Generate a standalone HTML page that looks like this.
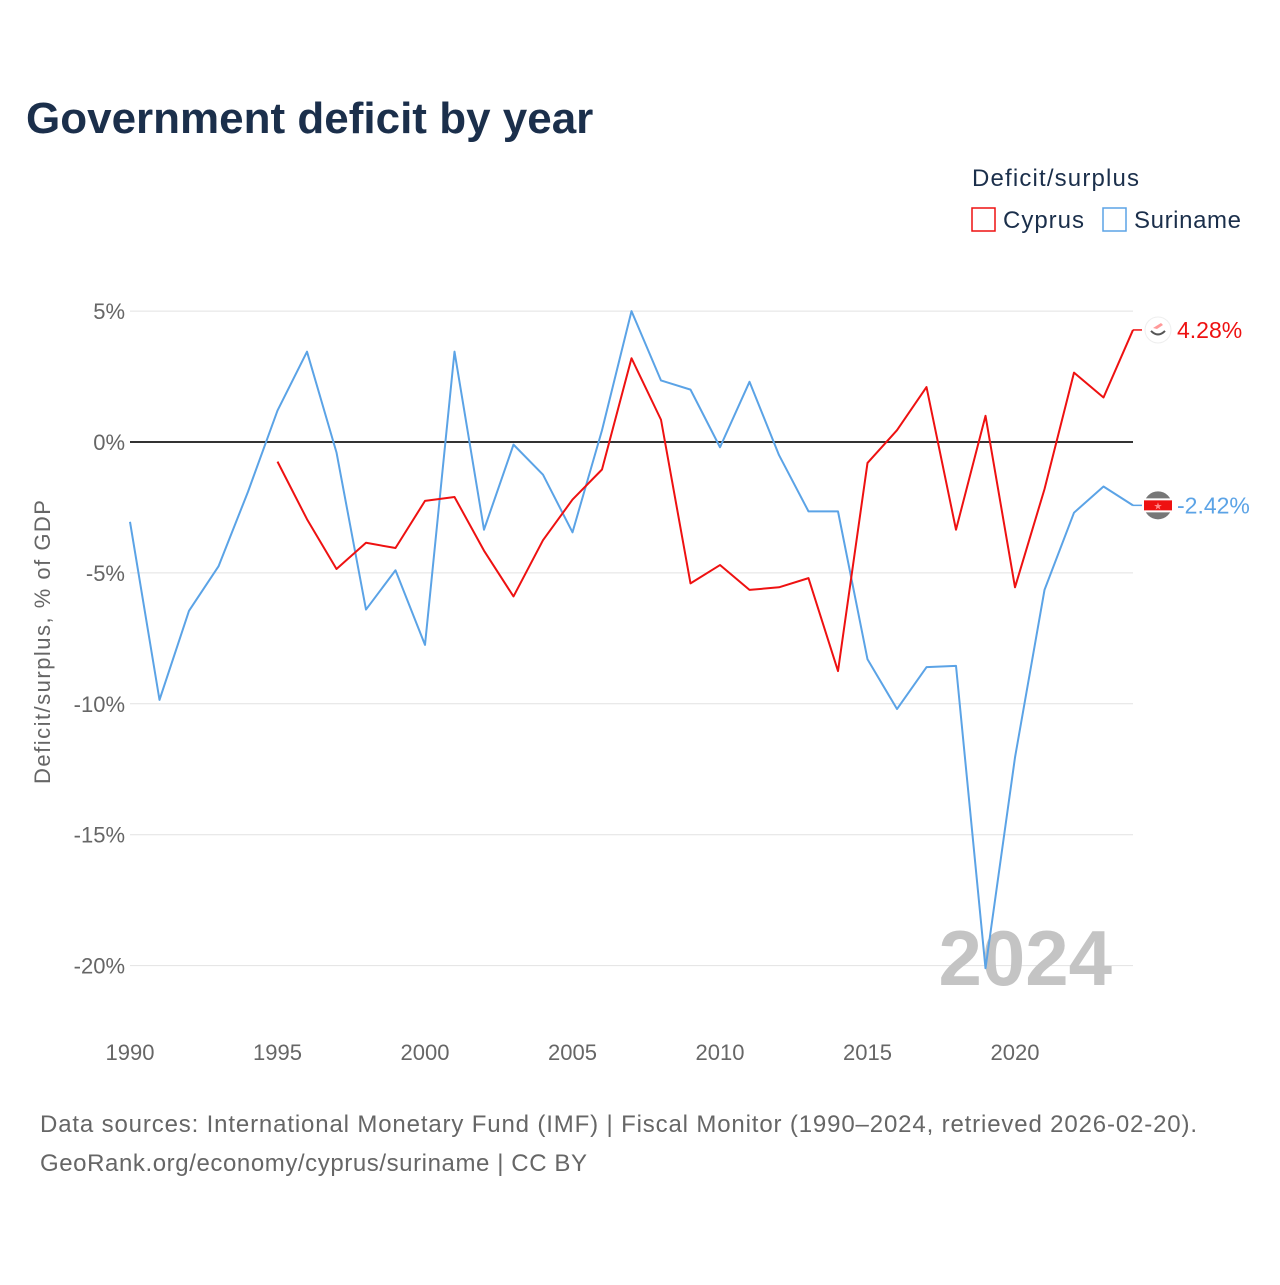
<!DOCTYPE html>
<html><head><meta charset="utf-8"><style>
body{margin:0;background:#fff;width:1280px;height:1280px;overflow:hidden;font-family:"Liberation Sans",sans-serif}
</style></head><body>
<svg width="1280" height="1280" id="chart" xmlns="http://www.w3.org/2000/svg" font-family="Liberation Sans, sans-serif">
<text x="26" y="133" font-size="44" font-weight="bold" fill="#1b2f4b">Government deficit by year</text>
<text x="972" y="186" font-size="24" fill="#1b2f4b" textLength="167">Deficit/surplus</text>
<g><rect x="972" y="208" width="23" height="23" fill="none" stroke="#ee1111" stroke-width="1.5"/><text x="1003" y="228" font-size="24" fill="#1b2f4b" textLength="81">Cyprus</text></g>
<g><rect x="1103" y="208" width="23" height="23" fill="none" stroke="#5ba3e6" stroke-width="1.5"/><text x="1134" y="228" font-size="24" fill="#1b2f4b" textLength="107">Suriname</text></g>
<text transform="translate(50,642) rotate(-90)" text-anchor="middle" font-size="22" fill="#666" textLength="284">Deficit/surplus, % of GDP</text>
<g id="grid"></g><g id="xt"></g>
<text x="1112" y="985" text-anchor="end" font-size="78" font-weight="bold" fill="#c4c4c4">2024</text>
<g id="lines"></g>
<text x="40" y="1132" font-size="24" fill="#666" textLength="1157">Data sources: International Monetary Fund (IMF) | Fiscal Monitor (1990–2024, retrieved 2026-02-20).</text>
<text x="40" y="1171" font-size="24" fill="#666" textLength="547">GeoRank.org/economy/cyprus/suriname | CC BY</text>
</svg>
<script>
const years=[];for(let y=1990;y<=2024;y++)years.push(y);
const yTicks=[5,0,-5,-10,-15,-20];
const xTicks=[1990,1995,2000,2005,2010,2015,2020];
const suriname=[-3.05,-9.85,-6.45,-4.75,-1.9,1.2,3.45,-0.4,-6.4,-4.9,-7.75,3.45,-3.35,-0.1,-1.25,-3.45,0.45,5.0,2.35,2.0,-0.2,2.3,-0.5,-2.65,-2.65,-8.3,-10.2,-8.6,-8.55,-20.1,-12.05,-5.65,-2.7,-1.7,-2.42];
const cyprusYears=[1995,1996,1997,1998,1999,2000,2001,2002,2003,2004,2005,2006,2007,2008,2009,2010,2011,2012,2013,2014,2015,2016,2017,2018,2019,2020,2021,2022,2023,2024];
const cyprus=[-0.75,-2.95,-4.85,-3.85,-4.05,-2.25,-2.1,-4.15,-5.9,-3.75,-2.2,-1.05,3.2,0.85,-5.4,-4.7,-5.65,-5.55,-5.2,-8.75,-0.8,0.45,2.1,-3.35,1.0,-5.55,-1.8,2.65,1.7,4.28];
const X=y=>130+(y-1990)*(1133-130)/34;
const Y=v=>442-v*26.18;
const NS="http://www.w3.org/2000/svg";
function mk(t,a,p){const e=document.createElementNS(NS,t);for(const k in a)e.setAttribute(k,a[k]);p.appendChild(e);return e;}
const grid=document.getElementById('grid');
yTicks.forEach(v=>{
 const l=mk('line',{x1:130,x2:1133,y1:Y(v),y2:Y(v),stroke:v===0?'#333':'#e2e2e2','stroke-width':v===0?2:1},grid);
 
 
 const t=mk('text',{x:125,y:Y(v)+8,'text-anchor':'end','font-size':22,fill:'#666'},grid);
 t.textContent=v+'%';
 
 
});
const xt=document.getElementById('xt');
xTicks.forEach(v=>{
 const t=mk('text',{x:X(v),y:1060,'text-anchor':'middle','font-size':22,fill:'#666'},xt);
 t.textContent=v;
 
 
});
const lines=document.getElementById('lines');
function series(xs,vs,color,name){
 const p=mk('polyline',{points:xs.map((x,i)=>X(x)+','+Y(vs[i])).join(' '),fill:'none',stroke:color,'stroke-width':2,'stroke-linejoin':'round'},lines);
 
 
}
series(years,suriname,'#5ba3e6','suriname');
series(cyprusYears,cyprus,'#ee1111','cyprus');
function endLabel(v,color,name,flag){
 const y=Y(v);
 mk('line',{x1:1133,x2:1142,y1:y,y2:y,stroke:color,'stroke-width':1.5},lines);
 const g=mk('g',{},lines);
 
 
 if(flag==='sr'){
  mk('circle',{cx:1158,cy:y,r:14,fill:'#777'},g);
  mk('rect',{x:1144,y:y-7,width:28,height:14,fill:'#fff'},g);
  mk('rect',{x:1144,y:y-5,width:28,height:10,fill:'#ee1111'},g);
  mk('text',{x:1158,y:y+4,'text-anchor':'middle','font-size':10,fill:'#f88'},g).textContent='★';
 } else {
  mk('circle',{cx:1158,cy:y,r:13,fill:'#fff',stroke:'#eee'},g);
  mk('path',{d:`M1153 ${y-2} l8 -5 l2 2 l-6 4 z`,fill:'#f99'},g);
  mk('path',{d:`M1151 ${y+1} q7 7 14 0`,fill:'none',stroke:'#555','stroke-width':2},g);
 }
 const t=mk('text',{x:1177,y:y+8,'font-size':23,fill:color},lines);
 t.textContent=v.toFixed(2)+'%';
 
 
}
endLabel(cyprus[cyprus.length-1],'#ee1111','cyprus','cy');
endLabel(suriname[suriname.length-1],'#5ba3e6','suriname','sr');
</script>
</body></html>
